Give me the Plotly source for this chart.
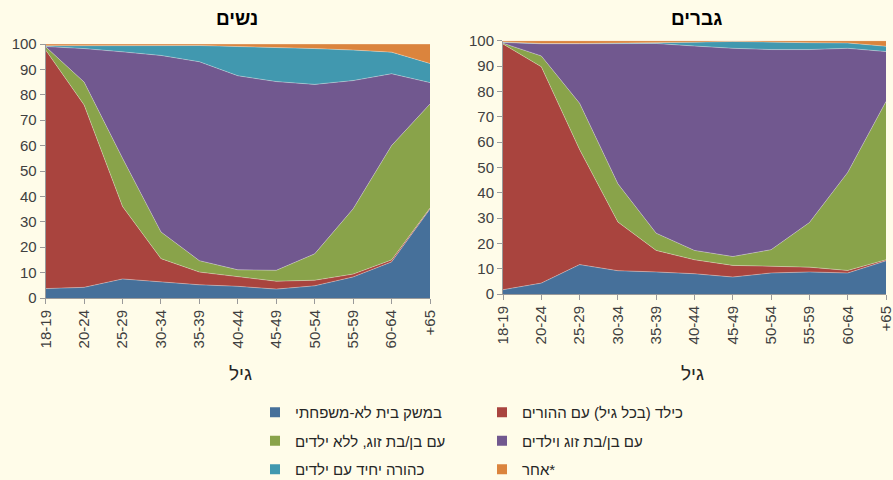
import plotly.graph_objects as go

ages = ["18-19", "20-24", "25-29", "30-34", "35-39", "40-44", "45-49",
        "50-54", "55-59", "60-64", "+65"]

series_names = [
    "במשק בית לא-משפחתי",
    "כילד (בכל גיל) עם ההורים",
    "עם בן/בת זוג, ללא ילדים",
    "עם בן/בת זוג וילדים",
    "כהורה יחיד עם ילדים",
    "\u200eאחר*",
]
colors = ["#46709A", "#A9443E", "#89A34A", "#71588F", "#4198AF", "#DB843D"]

# Women (נשים) – share of each living arrangement, %
women_nonfamily = [3.7, 4.2, 7.5, 6.3, 5.2, 4.6, 3.5, 4.8, 8.3, 14.2, 35.0]
women_child = [93.9, 71.8, 28.5, 9.2, 5.0, 3.7, 3.1, 2.2, 1.1, 0.8, 0.4]
women_couple_nokids = [1.3, 9.0, 19.0, 10.5, 4.5, 2.8, 4.3, 10.4, 25.7, 45.0, 41.0]
women_couple_kids = [0.1, 13.2, 41.9, 69.5, 78.3, 76.4, 74.3, 66.7, 50.5, 28.3, 8.4]
women_single_parent = [0.3, 1.1, 2.6, 4.0, 6.4, 11.5, 13.5, 14.1, 12.0, 8.5, 7.5]
women_other = [0.7, 0.7, 0.5, 0.5, 0.6, 1.0, 1.3, 1.8, 2.4, 3.2, 7.7]

# Men (גברים)
men_nonfamily = [1.7, 4.3, 11.6, 9.2, 8.7, 8.0, 6.7, 8.3, 8.7, 8.3, 13.1]
men_child = [97.0, 85.4, 45.4, 19.2, 8.5, 5.5, 4.6, 2.6, 1.9, 1.0, 0.4]
men_couple_nokids = [0.3, 4.3, 18.3, 15.1, 6.8, 3.7, 3.5, 6.6, 17.6, 38.7, 62.5]
men_couple_kids = [0.3, 4.8, 23.5, 55.4, 74.9, 80.7, 82.2, 79.0, 68.3, 49.0, 19.7]
men_single_parent = [0.2, 0.1, 0.1, 0.1, 0.3, 1.5, 2.7, 2.8, 2.7, 2.1, 2.1]
men_other = [0.5, 1.1, 1.1, 1.0, 0.8, 0.6, 0.3, 0.7, 0.8, 0.9, 2.2]

women = [women_nonfamily, women_child, women_couple_nokids,
         women_couple_kids, women_single_parent, women_other]
men = [men_nonfamily, men_child, men_couple_nokids,
       men_couple_kids, men_single_parent, men_other]

FONT = "Liberation Sans, Arial, sans-serif"
BG = "#FFFCE9"
W, H = 893, 480

xpos = list(range(len(ages)))
fig = go.Figure()

for vals_set, xa, ya, grp in [(women, "x", "y", "w"), (men, "x2", "y2", "m")]:
    for name, vals, col in zip(series_names, vals_set, colors):
        fig.add_trace(go.Scatter(
            x=xpos, y=vals, name=name, mode="lines",
            stackgroup=grp, fillcolor=col,
            line=dict(width=0.8, color="rgba(255,255,255,0.4)"),
            xaxis=xa, yaxis=ya, showlegend=False, hoverinfo="skip"))

# legend entries (square swatches), two columns
legend_of = ["legend", "legend2", "legend", "legend2", "legend", "legend2"]
for i, (name, col) in enumerate(zip(series_names, colors)):
    fig.add_trace(go.Scatter(
        x=[None], y=[None], mode="markers", name=name,
        marker=dict(symbol="square", size=10, color=col),
        legend=legend_of[i], legendgroup=f"g{i}", showlegend=True,
        xaxis="x", yaxis="y"))

def px(x):
    return x / W

def py(y):
    return 1 - y / H

axis_common = dict(showline=True, linecolor="#9A9A9A", linewidth=1,
                   ticks="outside", ticklen=5, tickcolor="#9A9A9A",
                   showgrid=False, zeroline=False, automargin=False,
                   ticklabeloverflow="allow",
                   tickfont=dict(family=FONT, size=15, color="#404040"))

legend_common = dict(xanchor="left", yanchor="bottom", y=-6 / H,
                     orientation="v", bgcolor="rgba(0,0,0,0)",
                     font=dict(family=FONT, size=15, color="#262626"),
                     tracegroupgap=6, itemclick=False, itemdoubleclick=False)

ann_common = dict(xref="paper", yref="paper", showarrow=False,
                  xanchor="center", yanchor="middle")

fig.update_layout(
    width=W, height=H, paper_bgcolor=BG, plot_bgcolor=BG,
    margin=dict(l=0, r=0, t=0, b=0, autoexpand=False),
    font=dict(family=FONT, color="#262626"),
    xaxis=dict(domain=[px(45.7), px(430)], range=[0, 10],
               tickvals=xpos, ticktext=ages, tickangle=-90,
               anchor="y", **axis_common),
    yaxis=dict(domain=[py(298), py(44)], range=[0, 100], dtick=10,
               anchor="x", **axis_common),
    xaxis2=dict(domain=[px(503), px(886)], range=[0, 10],
                tickvals=xpos, ticktext=ages, tickangle=-90,
                anchor="y2", **axis_common),
    yaxis2=dict(domain=[py(294), py(40.7)], range=[0, 100], dtick=10,
                anchor="x2", **axis_common),
    legend=dict(x=px(255), **legend_common),
    legend2=dict(x=px(482), **legend_common),
    annotations=[
        dict(text="<b>נשים</b>", x=px(237), y=py(19),
             font=dict(family=FONT, size=19, color="#000000"), **ann_common),
        dict(text="<b>גברים</b>", x=px(696), y=py(19),
             font=dict(family=FONT, size=19, color="#000000"), **ann_common),
        dict(text="גיל", x=px(240), y=py(373),
             font=dict(family=FONT, size=19, color="#262626"), **ann_common),
        dict(text="גיל", x=px(692), y=py(373),
             font=dict(family=FONT, size=19, color="#262626"), **ann_common),
    ],
)

fig.write_html("out.html",
               config={"displayModeBar": False},
               post_script="document.body.style.margin='0';"
                           "document.body.style.background='#FFFCE9';")
